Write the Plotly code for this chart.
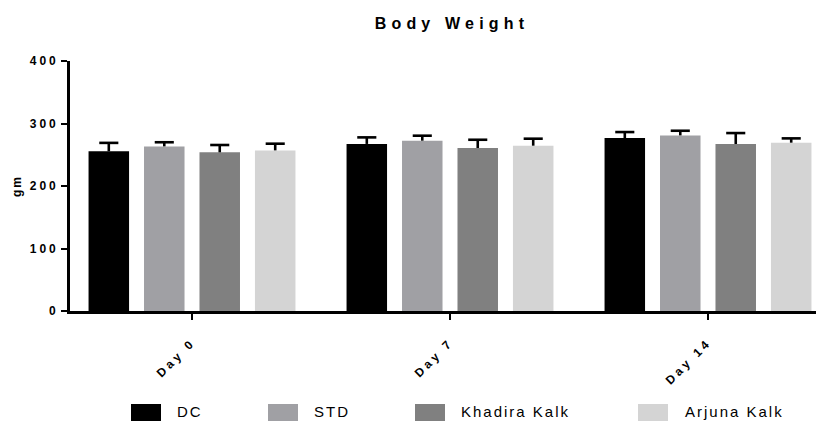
import plotly.graph_objects as go

# Mean body weight (gm) with upward SEM bars
days = ["Day 0", "Day 7", "Day 14"]
groups = ["DC", "STD", "Khadira Kalk", "Arjuna Kalk"]
dc_mean = [255.5, 267.3, 276.7]
dc_sem = [13.5, 10.5, 9.6]
std_mean = [263.4, 272.5, 281.0]
std_sem = [6.6, 8.0, 7.4]
khadira_mean = [253.9, 260.8, 267.2]
khadira_sem = [11.7, 13.2, 17.5]
arjuna_mean = [257.0, 264.5, 269.3]
arjuna_sem = [10.7, 11.2, 6.9]
y_ticks = [0, 100, 200, 300, 400]

means = [dc_mean, std_mean, khadira_mean, arjuna_mean]
sems = [dc_sem, std_sem, khadira_sem, arjuna_sem]
colors = ["#000000", "#a0a0a4", "#808080", "#d4d4d4"]

W, H = 816, 421
ML, MR, MT, MB = 70, 0, 61, 110
X_MIN, X_MAX = -0.4729, 2.4186

BAR_W = 0.157
STEP = 0.215
CAP = 0.037
offsets = [(-1.5 + i) * STEP for i in range(len(groups))]
cat_pos = list(range(len(days)))

FONT = "Liberation Sans, Arial, sans-serif"
LEGEND_SPACING = 2.0

fig = go.Figure()

for name, m, col, off in zip(groups, means, colors, offsets):
    fig.add_trace(go.Bar(
        x=cat_pos, y=m, name=name,
        offset=off - BAR_W / 2, width=BAR_W,
        marker=dict(color=col, line=dict(width=0)),
        showlegend=False,
    ))

# Upward-only error bars: stem from bar top plus a cap
for m, s, off in zip(means, sems, offsets):
    ex, ey = [], []
    for c, v, e in zip(cat_pos, m, s):
        x = c + off
        ex += [x, x, None, x - CAP, x + CAP, None]
        ey += [v, v + e, None, v + e, v + e, None]
    fig.add_trace(go.Scatter(
        x=ex, y=ey, mode="lines",
        line=dict(color="black", width=2.6),
        showlegend=False, hoverinfo="skip",
    ))


def px_x(p):
    return (p - ML) / (W - ML - MR)


def px_y(p):
    return (H - MB - p) / (H - MT - MB)


# Legend row along the bottom (text is centred on its unspaced width,
# so shift right by half of the added letter spacing)
legend_sq = [131, 268, 415, 638]
legend_tx = [175, 312, 459, 683]
shapes, annotations = [], []
for name, col, sx, tx in zip(groups, colors, legend_sq, legend_tx):
    shapes.append(dict(
        type="rect", xref="paper", yref="paper",
        x0=px_x(sx), x1=px_x(sx + 30), y0=px_y(404), y1=px_y(421),
        fillcolor=col, line=dict(width=0),
    ))
    annotations.append(dict(
        text=name, xref="paper", yref="paper",
        x=px_x(tx + len(name) * LEGEND_SPACING / 2), y=px_y(411.5),
        xanchor="left", yanchor="middle",
        showarrow=False, font=dict(family=FONT, size=15, color="black"),
    ))

annotations.append(dict(
    text="gm", xref="paper", yref="paper",
    x=px_x(17), y=px_y(186), xanchor="center", yanchor="middle",
    textangle=-90, showarrow=False,
    font=dict(family=FONT, size=12, color="black", weight="bold"),
))

fig.update_layout(
    width=W, height=H,
    margin=dict(l=ML, r=MR, t=MT, b=MB),
    paper_bgcolor="white", plot_bgcolor="white",
    barmode="overlay",
    title=dict(
        text="Body Weight", x=452 / W, xanchor="center",
        y=1 - 23 / H, yanchor="middle",
        font=dict(family=FONT, size=16, color="black", weight="bold"),
    ),
    xaxis=dict(
        range=[X_MIN, X_MAX], tickvals=cat_pos, ticktext=days,
        tickangle=-45, ticks="outside", ticklen=6, tickwidth=2.2,
        tickcolor="black", showline=True, linewidth=2.6, linecolor="black",
        showgrid=False, zeroline=False, ticklabelstandoff=11,
        tickfont=dict(family=FONT, size=12, color="black", weight="bold"),
    ),
    yaxis=dict(
        range=[0, 400], tickvals=y_ticks, ticks="outside", ticklen=6,
        tickwidth=2.2, tickcolor="black", showline=True, linewidth=2.6,
        linecolor="black", showgrid=False, zeroline=False,
        tickfont=dict(family=FONT, size=12, color="black", weight="bold"),
    ),
    shapes=shapes,
    annotations=annotations,
    showlegend=False,
)

# Wide letter spacing on the text elements
spacing_js = """
var gd = document.getElementsByClassName('plotly-graph-div')[0];
gd.querySelectorAll('.gtitle').forEach(function(e){ e.style.letterSpacing = '5.2px'; });
gd.querySelectorAll('.xtick text').forEach(function(e){ e.style.letterSpacing = '3.4px'; });
gd.querySelectorAll('.ytick text').forEach(function(e){ e.style.letterSpacing = '3px'; });
gd.querySelectorAll('.annotation-text').forEach(function(e){ e.style.letterSpacing = '%spx'; });
""" % LEGEND_SPACING

fig.write_html("out.html", post_script=spacing_js)
